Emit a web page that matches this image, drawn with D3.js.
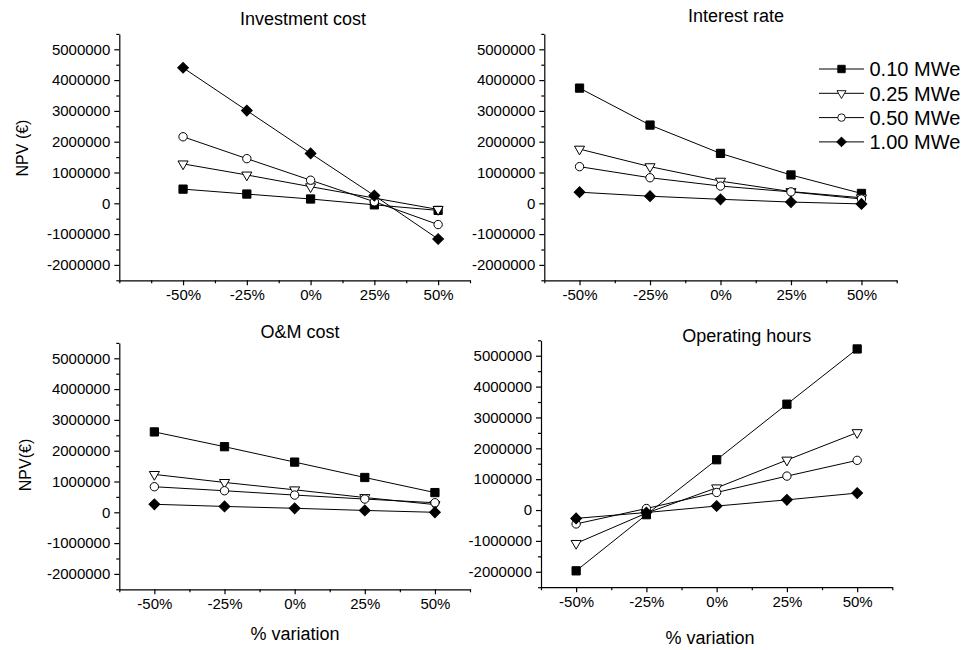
<!DOCTYPE html>
<html>
<head>
<meta charset="utf-8">
<script src="https://cdn.jsdelivr.net/npm/d3@7"></script>
<style>
  html, body { margin: 0; padding: 0; background: #fff; }
  svg { display: block; font-family: "Liberation Sans", Arial, sans-serif; }
</style>
</head>
<body>
<svg id="chart" width="969" height="650"></svg>
<script>
// Variation of each input parameter (percent) and its tick labels
const variation = [-50, -25, 0, 25, 50];
const xTickLabels = ["-50%", "-25%", "0%", "25%", "50%"];
const yTickValues = [-2000000, -1000000, 0, 1000000, 2000000, 3000000, 4000000, 5000000];
const seriesNames = ["0.10 MWe", "0.25 MWe", "0.50 MWe", "1.00 MWe"];

// NPV (€) per plant size, one row per series in seriesNames order
const investmentCost = [
  [460000, 300000, 140000, -50000, -230000],
  [1280000, 920000, 540000, 170000, -200000],
  [2160000, 1450000, 750000, 50000, -690000],
  [4400000, 3010000, 1620000, 250000, -1160000]
];
const interestRate = [
  [3740000, 2540000, 1620000, 920000, 320000],
  [1760000, 1190000, 720000, 380000, 180000],
  [1190000, 830000, 560000, 370000, 140000],
  [360000, 230000, 130000, 40000, -20000]
];
const omCost = [
  [2610000, 2130000, 1630000, 1130000, 640000],
  [1230000, 970000, 730000, 480000, 250000],
  [830000, 700000, 560000, 430000, 310000],
  [260000, 190000, 130000, 60000, 0]
];
const operatingHours = [
  [-1970000, -150000, 1630000, 3430000, 5220000],
  [-1080000, -100000, 720000, 1620000, 2510000],
  [-450000, 50000, 570000, 1100000, 1610000],
  [-270000, -80000, 130000, 330000, 550000]
];

const svg = d3.select("#chart");

// Marker shapes per series: filled square, open down-triangle, open circle, filled diamond
const markers = [
  { path: d3.symbol(d3.symbolSquare, 68)(), rot: 0, fill: "#000" },
  { path: d3.symbol(d3.symbolTriangle, 44)(), rot: 180, fill: "#fff" },
  { path: d3.symbol(d3.symbolCircle, 55)(), rot: 0, fill: "#fff" },
  { path: d3.symbol(d3.symbolSquare, 58)(), rot: 45, fill: "#000" }
];

const panels = [
  { title: "Investment cost", data: investmentCost, xr: [119.3, 470], xd: [-75, 62.5], yr: [280.3, 33.9],
    titlePos: [303, 24.8], yLabel: "NPV (\u20ac)", yLabelPos: [27.5, 148] },
  { title: "Interest rate", data: interestRate, xr: [544.3, 896.7], xd: [-62.5, 62.5], yr: [280.3, 33.9],
    titlePos: [736, 21.5] },
  { title: "O&M cost", data: omCost, xr: [119.3, 470], xd: [-62.5, 62.5], yr: [589.3, 342.9],
    titlePos: [300, 338.3], yLabel: "NPV(\u20ac)", yLabelPos: [30.5, 465], xLabelPos: [295, 640] },
  { title: "Operating hours", data: operatingHours, xr: [541, 892.3], xd: [-62.5, 62.5], yr: [587.2, 340.3],
    titlePos: [746.7, 342.3], xLabelPos: [710, 644.3] }
];

const minorX = [-75, -62.5, -37.5, -12.5, 12.5, 37.5, 62.5];
const minorY = [-2500000, -1500000, -500000, 500000, 1500000, 2500000, 3500000, 4500000, 5500000];

panels.forEach(p => {
  const x = d3.scaleLinear().domain(p.xd).range(p.xr);
  const y = d3.scaleLinear().domain([-2500000, 5500000]).range(p.yr);
  const g = svg.append("g");

  // y axis: major labelled ticks plus short minor ticks
  const yAxis = g.append("g").attr("transform", `translate(${p.xr[0]},0)`)
    .call(d3.axisLeft(y).tickValues(yTickValues).tickFormat(d => String(d))
      .tickSize(5).tickPadding(4).tickSizeOuter(0));
  g.append("g").attr("transform", `translate(${p.xr[0]},0)`)
    .call(d3.axisLeft(y).tickValues(minorY).tickFormat("").tickSize(3).tickSizeOuter(0))
    .call(a => a.select(".domain").remove());

  // x axis
  const xAxis = g.append("g").attr("transform", `translate(0,${p.yr[0]})`)
    .call(d3.axisBottom(x).tickValues(variation).tickFormat((d, i) => xTickLabels[i])
      .tickSize(5).tickPadding(4).tickSizeOuter(0));
  g.append("g").attr("transform", `translate(0,${p.yr[0]})`)
    .call(d3.axisBottom(x).tickValues(minorX.filter(v => v >= p.xd[0])).tickFormat("").tickSize(3).tickSizeOuter(0))
    .call(a => a.select(".domain").remove());

  g.selectAll(".tick text").attr("font-size", 15).attr("font-family", "Liberation Sans, Arial, sans-serif").attr("fill", "#000");
  g.selectAll(".domain, .tick line").attr("stroke", "#000").attr("stroke-width", 1.2);

  // series lines and markers
  const line = d3.line().x((d, i) => x(variation[i])).y(d => y(d));
  p.data.forEach((vals, s) => {
    g.append("path").attr("d", line(vals)).attr("fill", "none").attr("stroke", "#000").attr("stroke-width", 1);
  });
  p.data.forEach((vals, s) => {
    const m = markers[s];
    g.selectAll(null).data(vals).enter().append("path")
      .attr("d", m.path)
      .attr("transform", (d, i) => `translate(${x(variation[i])},${y(d)}) rotate(${m.rot})`)
      .attr("fill", m.fill).attr("stroke", "#000").attr("stroke-width", 1);
  });

  // titles and axis labels
  g.append("text").attr("x", p.titlePos[0]).attr("y", p.titlePos[1])
    .attr("text-anchor", "middle").attr("font-size", 18).text(p.title);
  if (p.yLabel) {
    g.append("text").attr("transform", `translate(${p.yLabelPos[0]},${p.yLabelPos[1]}) rotate(-90)`)
      .attr("text-anchor", "middle").attr("font-size", 16).text(p.yLabel);
  }
  if (p.xLabelPos) {
    g.append("text").attr("x", p.xLabelPos[0]).attr("y", p.xLabelPos[1])
      .attr("text-anchor", "middle").attr("font-size", 18).text("% variation");
  }
});

// legend
const legend = svg.append("g");
seriesNames.forEach((name, s) => {
  const cy = 69 + s * 24.3;
  const m = markers[s];
  legend.append("line").attr("x1", 819).attr("x2", 864).attr("y1", cy).attr("y2", cy)
    .attr("stroke", "#000").attr("stroke-width", 1);
  legend.append("path").attr("d", m.path)
    .attr("transform", `translate(841.5,${cy}) rotate(${m.rot}) scale(0.9)`)
    .attr("fill", m.fill).attr("stroke", "#000").attr("stroke-width", 1);
  legend.append("text").attr("x", 869.5).attr("y", cy + 7.2).attr("font-size", 20).text(name);
});
</script>
</body>
</html>
